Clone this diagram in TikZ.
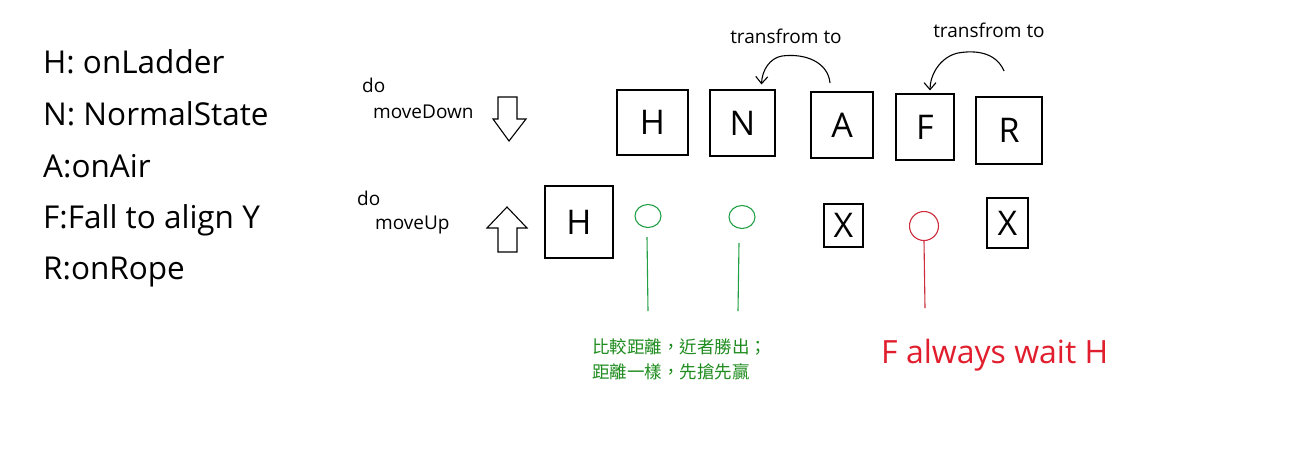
\documentclass[tikz,border=0pt]{standalone}
\usepackage{fontspec}
\setmainfont{Open Sans}
\newfontfamily\cjkfont{Noto Sans CJK TC}
\usetikzlibrary{arrows.meta,calc,shapes.geometric}
\definecolor{grn}{RGB}{34,160,70}
\definecolor{grntext}{RGB}{30,140,30}
\definecolor{rd}{RGB}{205,45,60}
\definecolor{rdtext}{RGB}{225,30,45}
\tikzset{
  statebox/.style={draw=black, line width=1.1pt, inner sep=0pt, font=\fontsize{34}{40}\selectfont},
  legend/.style={anchor=base west, inner sep=0pt, font=\fontsize{31.5}{36}\selectfont},
  small/.style={anchor=base west, inner sep=0pt, font=\fontsize{19}{22}\selectfont},
  hollow/.style={draw=black, line width=1.1pt, fill=white},
  curve/.style={draw=black, line width=1.1pt, -{Straight Barb[length=7pt,width=12pt,line width=1.1pt]}},
  gcirc/.style={draw=grn, line width=1.1pt, ellipse, minimum width=26pt, minimum height=23pt, inner sep=0pt},
  rcirc/.style={draw=rd, line width=1.1pt, circle, minimum size=29pt, inner sep=0pt},
}
\begin{document}
\begin{tikzpicture}[x=1pt,y=-1pt]
\fill[white] (0,0) rectangle (1292,464);
\useasboundingbox (0,0) rectangle (1292,464);

% legend
\node[legend] (l1) at (43,73) {H: onLadder};
\node[legend] (l2) at (43,125) {N: NormalState};
\node[legend] (l3) at (43,177) {A:onAir};
\node[legend] (l4) at (43,228) {F:Fall to align Y};
\node[legend] (l5) at (43,279) {R:onRope};

% do labels
\node[small] (d1) at (362,92) {do};
\node[small] (d2) at (373,118) {moveDown};
\node[small] (d3) at (357,205) {do};
\node[small] (d4) at (375,229) {moveUp};

% hollow arrows
\draw[hollow] (498,97) -- (517,97) -- (517,119) -- (526,119) -- (509,141) -- (493,119) -- (498,119) -- cycle;
\draw[hollow] (498,252) -- (517,252) -- (517,228) -- (527,228) -- (507,207) -- (487,228) -- (498,228) -- cycle;

% top row boxes
\node[statebox, minimum width=71pt, minimum height=65pt] (H) at (652.5,122.5) {H};
\node[statebox, minimum width=65pt, minimum height=66pt] (N) at (742.5,123) {N};
\node[statebox, minimum width=62pt, minimum height=66pt] (A) at (842,125) {A};
\node[statebox, minimum width=58pt, minimum height=66pt] (F) at (925,127) {F};
\node[statebox, minimum width=66pt, minimum height=67pt] (R) at (1009,130.5) {R};

% transform arrows
\node[small, anchor=base] (t1) at (786,43) {transfrom to};
\node[small, anchor=base] (t2) at (989,37) {transfrom to};
\coordinate (a1s) at (830,83);
\coordinate (a1e) at ($(N.north)+(19,-5)$);
\coordinate (a2s) at (1004,71);
\coordinate (a2e) at ($(F.north)+(5,-3)$);
\draw[curve] (a1s) .. controls (828,62) and (805,53) .. (782,56) .. controls (770,58) and (762,70) .. (a1e);
\draw[curve] (a2s) .. controls (996,52) and (975,50) .. (958,53) .. controls (940,57) and (930,75) .. (a2e);

% bottom row
\node[statebox, minimum width=68pt, minimum height=72pt] (H2) at (579,222) {H};
\node[gcirc] (g1) at (648,216) {};
\coordinate (g1e) at (648,311);
\draw[grn, line width=1.1pt] (647,237) -- (g1e);
\node[gcirc] (g2) at (742,217) {};
\coordinate (g2e) at (738,311);
\draw[grn, line width=1.1pt] (739,243) -- (g2e);
\node[statebox, minimum width=39pt, minimum height=43pt] (X1) at (843.5,225.5) {X};
\node[rcirc] (r1) at (924,226) {};
\coordinate (r1e) at (925,308);
\draw[rd, line width=1.1pt] (r1.south) -- (r1e);
\node[statebox, minimum width=41pt, minimum height=50pt] (X2) at (1007.5,223) {X};

% notes
\node[anchor=base west, inner sep=0pt, text=grntext, font=\cjkfont\fontsize{17.5}{25}\selectfont, align=left] (note1) at (592,378) {比較距離，近者勝出；\\距離一樣，先搶先贏};
\node[anchor=base west, inner sep=0pt, text=rdtext, font=\fontsize{32}{36}\selectfont] (note2) at (881,363) {F always wait H};
\end{tikzpicture}
\end{document}
